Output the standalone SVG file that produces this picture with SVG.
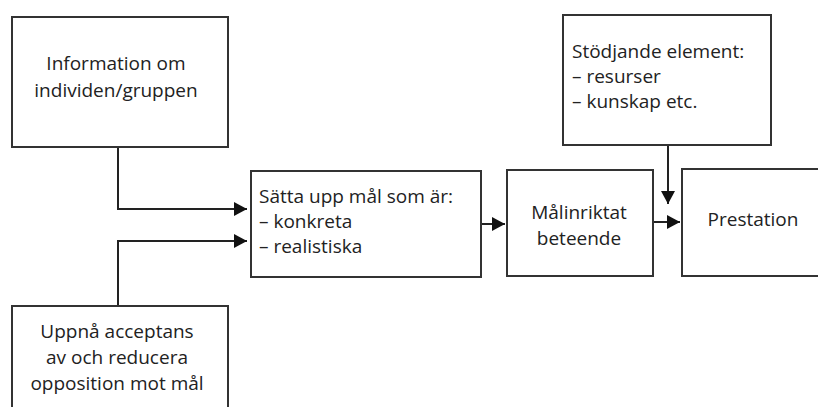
<svg xmlns="http://www.w3.org/2000/svg" width="818" height="407" viewBox="0 0 818 407">
<style>
.box{fill:#fff;stroke:#333;stroke-width:2}
.t{font-family:"Open Sans","Liberation Sans",sans-serif;font-size:19px;fill:#222}
.c{text-anchor:middle}
.ln{fill:none;stroke:#222;stroke-width:2}
</style>
<defs>
<marker id="ah" markerUnits="userSpaceOnUse" markerWidth="14" markerHeight="14" refX="13" refY="7" orient="auto">
<path d="M0,0 L13,7 L0,14 Z" fill="#111"/>
</marker>
</defs>
<rect width="818" height="407" fill="#fff"/>
<g id="connectors">
<path class="ln" d="M118,147 V209 H247" marker-end="url(#ah)"/>
<path class="ln" d="M118,306 V241 H247" marker-end="url(#ah)"/>
<path class="ln" d="M481,224 H505" marker-end="url(#ah)"/>
<path class="ln" d="M653,222 H680" marker-end="url(#ah)"/>
<path class="ln" d="M668,145 V204" marker-end="url(#ah)"/>
</g>
<g id="info">
<rect class="box" x="12" y="17" width="216" height="130"/>
<text class="t c" x="116" y="70">Information om</text>
<text class="t c" x="116" y="97">individen/gruppen</text>
</g>
<g id="acceptans">
<rect class="box" x="12" y="306" width="216" height="130"/>
<text class="t c" x="117" y="338">Uppnå acceptans</text>
<text class="t c" x="117" y="364">av och reducera</text>
<text class="t c" x="117" y="390">opposition mot mål</text>
</g>
<g id="mal">
<rect class="box" x="251" y="171" width="230" height="106"/>
<text class="t" x="259" y="203">Sätta upp mål som är:</text>
<text class="t" x="259" y="228">– konkreta</text>
<text class="t" x="259" y="253">– realistiska</text>
</g>
<g id="beteende">
<rect class="box" x="507" y="170" width="146" height="106"/>
<text class="t c" x="579" y="219">Målinriktat</text>
<text class="t c" x="579" y="245">beteende</text>
</g>
<g id="prestation">
<rect class="box" x="682" y="169" width="160" height="107"/>
<text class="t c" x="753" y="226">Prestation</text>
</g>
<g id="stod">
<rect class="box" x="563" y="15" width="208" height="130"/>
<text class="t" x="572" y="58">Stödjande element:</text>
<text class="t" x="572" y="83">– resurser</text>
<text class="t" x="572" y="108">– kunskap etc.</text>
</g>
</svg>
